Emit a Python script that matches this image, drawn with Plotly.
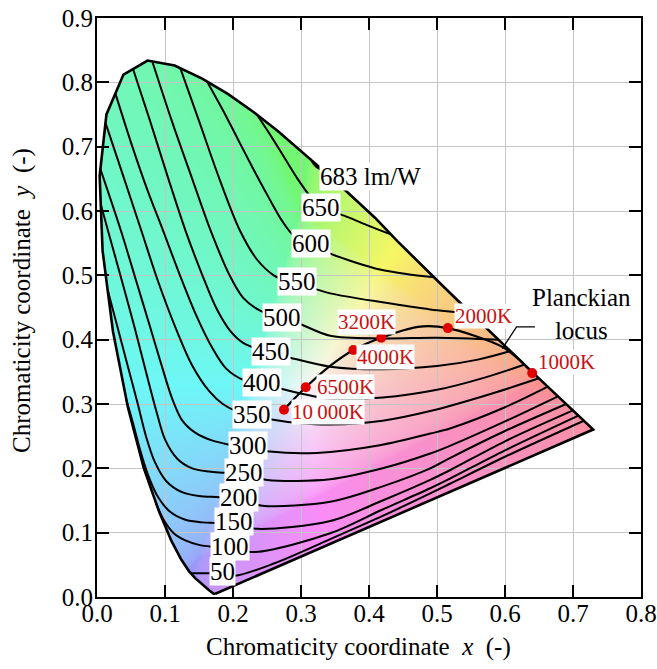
import numpy as np
import plotly.graph_objects as go
import zlib, struct, base64

# ---------------- data ----------------
# spectral locus (CIE 1931 xy, as drawn), 380 nm -> 700 nm
LOCUS_X = [0.1741, 0.1714, 0.1644, 0.1566, 0.1440, 0.1355, 0.1241, 0.1096, 0.0913, 0.0687,
           0.0454, 0.0235, 0.0082, 0.0039, 0.0139, 0.0389, 0.0743, 0.1142, 0.1547, 0.1929,
           0.2296, 0.2658, 0.3016, 0.3373, 0.3731, 0.4087, 0.4421, 0.4758, 0.5090, 0.5408,
           0.5707, 0.5979, 0.6220, 0.6432, 0.6608, 0.6865, 0.7029, 0.7140, 0.7210, 0.7250,
           0.7290, 0.7297]
LOCUS_Y = [0.0050, 0.0051, 0.0109, 0.0177, 0.0297, 0.0399, 0.0578, 0.0868, 0.1327, 0.2007,
           0.2950, 0.4127, 0.5384, 0.6548, 0.7502, 0.8120, 0.8338, 0.8262, 0.8059, 0.7816,
           0.7543, 0.7243, 0.6923, 0.6589, 0.6245, 0.5896, 0.5527, 0.5172, 0.4831, 0.4504,
           0.4197, 0.3915, 0.3675, 0.3464, 0.3290, 0.3033, 0.2870, 0.2759, 0.2690, 0.2650,
           0.2610, 0.2603]

# luminous efficacy contours (lm/W)
C683_X = [0.313, 0.322, 0.336]
C683_Y = [0.682, 0.669, 0.660]
C650_X = [0.235, 0.255, 0.275, 0.295, 0.312, 0.329, 0.345, 0.370, 0.397, 0.431]
C650_Y = [0.750, 0.718, 0.684, 0.650, 0.625, 0.607, 0.600, 0.590, 0.578, 0.564]
C600_X = [0.162, 0.185, 0.207, 0.230, 0.253, 0.272, 0.290, 0.315, 0.345, 0.380, 0.416, 0.455, 0.495]
C600_Y = [0.801, 0.757, 0.712, 0.665, 0.620, 0.585, 0.561, 0.549, 0.533, 0.520, 0.509, 0.502, 0.497]
C550_X = [0.1225, 0.150, 0.180, 0.210, 0.235, 0.260, 0.280, 0.297, 0.317, 0.343, 0.420, 0.490, 0.550]
C550_Y = [0.822, 0.740, 0.650, 0.570, 0.525, 0.500, 0.491, 0.487, 0.480, 0.472, 0.458, 0.447, 0.441]
C500_X = [0.081, 0.110, 0.140, 0.167, 0.195, 0.215, 0.240, 0.265, 0.282, 0.300, 0.343, 0.420, 0.500, 0.590]
C500_Y = [0.8335, 0.740, 0.650, 0.570, 0.500, 0.465, 0.445, 0.436, 0.432, 0.424, 0.406, 0.402, 0.403, 0.400]
C450_X = [0.053, 0.078, 0.105, 0.130, 0.155, 0.175, 0.195, 0.215, 0.235, 0.256, 0.284, 0.343, 0.420, 0.500, 0.560, 0.607]
C450_Y = [0.8207, 0.740, 0.650, 0.570, 0.500, 0.450, 0.415, 0.395, 0.386, 0.380, 0.372, 0.358, 0.354, 0.359, 0.369, 0.382]
C400_X = [0.027, 0.052, 0.075, 0.097, 0.122, 0.145, 0.168, 0.190, 0.216, 0.243, 0.269, 0.343, 0.420, 0.500, 0.570, 0.628]
C400_Y = [0.7828, 0.700, 0.630, 0.570, 0.500, 0.440, 0.390, 0.355, 0.337, 0.331, 0.324, 0.308, 0.310, 0.322, 0.341, 0.361]
C350_X = [0.0125, 0.040, 0.065, 0.090, 0.115, 0.140, 0.165, 0.185, 0.205, 0.228, 0.257, 0.300, 0.343, 0.420, 0.490, 0.580, 0.650]
C350_Y = [0.737, 0.650, 0.570, 0.490, 0.420, 0.360, 0.320, 0.300, 0.289, 0.283, 0.276, 0.270, 0.268, 0.274, 0.289, 0.316, 0.340]
C300_X = [0.005, 0.035, 0.058, 0.078, 0.095, 0.110, 0.125, 0.145, 0.170, 0.194, 0.222, 0.254, 0.323, 0.416, 0.490, 0.519, 0.600, 0.663]
C300_Y = [0.665, 0.570, 0.490, 0.420, 0.360, 0.310, 0.275, 0.255, 0.243, 0.237, 0.232, 0.226, 0.224, 0.236, 0.254, 0.262, 0.295, 0.327]
C250_X = [0.0056, 0.016, 0.037, 0.055, 0.072, 0.087, 0.100, 0.118, 0.140, 0.165, 0.189, 0.216, 0.250, 0.343, 0.420, 0.490, 0.519, 0.600, 0.678]
C250_Y = [0.610, 0.570, 0.490, 0.420, 0.350, 0.290, 0.245, 0.215, 0.200, 0.195, 0.193, 0.190, 0.182, 0.183, 0.200, 0.223, 0.235, 0.273, 0.312]
C200_X = [0.0155, 0.030, 0.045, 0.060, 0.072, 0.085, 0.102, 0.125, 0.150, 0.180, 0.209, 0.243, 0.343, 0.420, 0.490, 0.519, 0.600, 0.690]
C200_Y = [0.478, 0.420, 0.360, 0.300, 0.250, 0.210, 0.180, 0.163, 0.157, 0.155, 0.152, 0.142, 0.148, 0.172, 0.200, 0.216, 0.258, 0.300]
C150_X = [0.043, 0.053, 0.063, 0.075, 0.090, 0.108, 0.130, 0.155, 0.174, 0.201, 0.235, 0.343, 0.420, 0.490, 0.519, 0.600, 0.700]
C150_Y = [0.307, 0.270, 0.230, 0.190, 0.155, 0.132, 0.120, 0.116, 0.115, 0.113, 0.106, 0.118, 0.150, 0.182, 0.197, 0.242, 0.290]
C100_X = [0.087, 0.098, 0.112, 0.130, 0.150, 0.170, 0.196, 0.233, 0.343, 0.420, 0.490, 0.519, 0.600, 0.708]
C100_Y = [0.145, 0.120, 0.100, 0.088, 0.081, 0.078, 0.076, 0.070, 0.099, 0.136, 0.169, 0.184, 0.228, 0.282]
C50_X = [0.138, 0.165, 0.184, 0.203, 0.260, 0.343, 0.420, 0.490, 0.519, 0.600, 0.716]
C50_Y = [0.037, 0.037, 0.036, 0.033, 0.052, 0.090, 0.126, 0.161, 0.176, 0.218, 0.274]

CONTOUR_XS = [C683_X, C650_X, C600_X, C550_X, C500_X, C450_X, C400_X, C350_X,
              C300_X, C250_X, C200_X, C150_X, C100_X, C50_X]
CONTOUR_YS = [C683_Y, C650_Y, C600_Y, C550_Y, C500_Y, C450_Y, C400_Y, C350_Y,
              C300_Y, C250_Y, C200_Y, C150_Y, C100_Y, C50_Y]
LABEL_TEXT = ["683 lm/W", "650", "600", "550", "500", "450", "400", "350",
              "300", "250", "200", "150", "100", "50"]
LABEL_X = [0.402, 0.329, 0.315, 0.294, 0.272, 0.256, 0.243, 0.228, 0.222, 0.216, 0.209, 0.201, 0.196, 0.184]
LABEL_Y = [0.654, 0.606, 0.550, 0.490, 0.434, 0.382, 0.333, 0.284, 0.235, 0.194, 0.155, 0.117, 0.079, 0.040]

# Planckian locus
PLANCK_T = [10000, 8000, 6500, 5000, 4000, 3200, 2500, 2000, 1500, 1200, 1000]
PLANCK_X = [0.275, 0.290, 0.307, 0.340, 0.377, 0.418, 0.472, 0.516, 0.594, 0.622, 0.640]
PLANCK_Y = [0.291, 0.308, 0.326, 0.357, 0.384, 0.403, 0.420, 0.418, 0.390, 0.368, 0.348]
DOT_T = [10000, 6500, 4000, 3200, 2000, 1000]
DOT_TEXT = ["10\u2009000K", "6500K", "4000K", "3200K", "2000K", "1000K"]
DOT_LABEL_X = [0.340, 0.365, 0.424, 0.397, 0.569, 0.690]
DOT_LABEL_Y = [0.287, 0.326, 0.373, 0.427, 0.437, 0.365]
LEADER_X = [0.596, 0.617, 0.644]
LEADER_Y = [0.386, 0.420, 0.420]
PLANCK_LABEL_XY = (0.712, 0.440)

# ---------------- background colour image ----------------
step = 0.0015
xs = np.arange(0, 0.75, step) + step / 2
ys = np.arange(0, 0.85, step) + step / 2
GX, GY = np.meshgrid(xs, ys[::-1])
polx = np.array(LOCUS_X + [LOCUS_X[0]])
poly = np.array(LOCUS_Y + [LOCUS_Y[0]])
inside = np.zeros(GX.shape, bool)
for i in range(len(polx) - 1):
    x1, y1, x2, y2 = polx[i], poly[i], polx[i + 1], poly[i + 1]
    cond = (y1 > GY) != (y2 > GY)
    xint = (x2 - x1) * (GY - y1) / ((y2 - y1) if y2 != y1 else 1e-12) + x1
    inside ^= cond & (GX < xint)
Yv = np.maximum(GY, 1e-3)
Xc = GX / Yv
Zc = np.maximum(1 - GX - GY, 0) / Yv
R = 3.2406 * Xc - 1.5372 - 0.4986 * Zc
G = -0.9689 * Xc + 1.8758 + 0.0415 * Zc
B = 0.0557 * Xc - 0.2040 + 1.0570 * Zc
m = np.minimum(np.minimum(R, G), B)
sub = 0.38 * np.minimum(m, 0)
R, G, B = [np.clip(c - sub, 0, None) for c in (R, G, B)]
mx = np.maximum(np.maximum(R, G), B)
R, G, B = R / mx, G / mx, B / mx
lum = 0.2126 * R + 0.7152 * G + 0.0722 * B


def gam(c):
    c = np.clip(c, 0, 1)
    return np.where(c <= 0.0031308, 12.92 * c, 1.055 * c ** (1 / 2.4) - 0.055)


fade = 0.38 + 0.24 * lum
rgb = [1 - (1 - 0.95 * gam(c)) * fade for c in (R, G, B)]
img = np.zeros(GX.shape + (4,), np.uint8)
for k in range(3):
    img[..., k] = np.clip(rgb[k] * 255, 0, 255).astype(np.uint8)
img[..., 3] = np.where(inside, 255, 0).astype(np.uint8)


def png_bytes(a):
    h, w = a.shape[:2]
    raw = b''.join(b'\x00' + a[r].tobytes() for r in range(h))

    def chunk(t, d):
        return struct.pack('>I', len(d)) + t + d + struct.pack('>I', zlib.crc32(t + d) & 0xffffffff)
    return (b'\x89PNG\r\n\x1a\n' + chunk(b'IHDR', struct.pack('>IIBBBBB', w, h, 8, 6, 0, 0, 0))
            + chunk(b'IDAT', zlib.compress(raw, 9)) + chunk(b'IEND', b''))


src = 'data:image/png;base64,' + base64.b64encode(png_bytes(img)).decode()

# ---------------- figure ----------------
FONT = "Liberation Serif"
fig = go.Figure()

for cx, cy in zip(CONTOUR_XS, CONTOUR_YS):
    fig.add_trace(go.Scatter(x=cx, y=cy, mode='lines', line=dict(color='black', width=2, shape='spline', smoothing=0.9),
                             hoverinfo='skip', showlegend=False))

fig.add_trace(go.Scatter(x=LOCUS_X + [LOCUS_X[0]], y=LOCUS_Y + [LOCUS_Y[0]], mode='lines',
                         line=dict(color='black', width=2.6), hoverinfo='skip', showlegend=False))

fig.add_trace(go.Scatter(x=PLANCK_X, y=PLANCK_Y, mode='lines',
                         line=dict(color='black', width=2.2, shape='spline', smoothing=0.8),
                         hoverinfo='skip', showlegend=False))
fig.add_trace(go.Scatter(x=LEADER_X, y=LEADER_Y, mode='lines', line=dict(color='black', width=1.3),
                         hoverinfo='skip', showlegend=False))
dx = [PLANCK_X[PLANCK_T.index(t)] for t in DOT_T]
dy = [PLANCK_Y[PLANCK_T.index(t)] for t in DOT_T]
fig.add_trace(go.Scatter(x=dx, y=dy, mode='markers', marker=dict(color='#e00000', size=10),
                         hoverinfo='skip', showlegend=False))

ann = []
for t, x, y in zip(LABEL_TEXT, LABEL_X, LABEL_Y):
    ann.append(dict(x=x, y=y, xref='x', yref='y', text=t, showarrow=False, bgcolor='white', borderpad=0,
                    font=dict(family=FONT, size=25, color='black')))
for t, x, y in zip(DOT_TEXT, DOT_LABEL_X, DOT_LABEL_Y):
    ann.append(dict(x=x, y=y, xref='x', yref='y', text=t, showarrow=False, bgcolor='white', borderpad=0,
                    font=dict(family=FONT, size=21, color='#cc1010')))
ann.append(dict(x=PLANCK_LABEL_XY[0], y=PLANCK_LABEL_XY[1], xref='x', yref='y', text='Planckian<br>locus',
                showarrow=False, font=dict(family=FONT, size=25, color='black')))
ann.append(dict(x=0.48, y=-0.087, xref='paper', yref='paper', showarrow=False,
                xanchor='center', yanchor='middle',
                text='Chromaticity coordinate\u00a0\u00a0<i>x</i>\u00a0\u00a0(-)',
                font=dict(family=FONT, size=25, color='black')))
ann.append(dict(x=-0.138, y=0.513, xref='paper', yref='paper', showarrow=False, textangle=-90,
                xanchor='center', yanchor='middle',
                text='Chromaticity coordinate\u00a0\u00a0<i>y</i>\u00a0\u00a0(-)',
                font=dict(family=FONT, size=25, color='black')))

axis_common = dict(showgrid=True, gridcolor='#c4c4c4', gridwidth=1, zeroline=False, showline=True,
                   linecolor='black', linewidth=2, mirror='ticks', ticks='inside', ticklen=12,
                   tickwidth=2, tickcolor='black', tickformat='.1f', dtick=0.1, automargin=False,
                   ticklabeloverflow='allow',
                   tickfont=dict(family=FONT, size=25, color='black'))
fig.update_layout(
    width=657, height=669, margin=dict(l=97, r=16, t=18, b=72, autoexpand=False),
    plot_bgcolor='white', paper_bgcolor='white',
    xaxis=dict(range=[0, 0.8], tick0=0, ticklabelstandoff=-7, **axis_common),
    yaxis=dict(range=[0, 0.9], tick0=0, ticklabelstandoff=-3, **axis_common),
    annotations=ann,
    images=[dict(source=src, xref='x', yref='y', x=0, y=len(ys) * step, sizex=len(xs) * step,
                 sizey=len(ys) * step, sizing='stretch', xanchor='left', yanchor='top', layer='below')],
)
fig.write_html("out.html", config={'displayModeBar': False},
               post_script="document.body.style.margin='0px';")
